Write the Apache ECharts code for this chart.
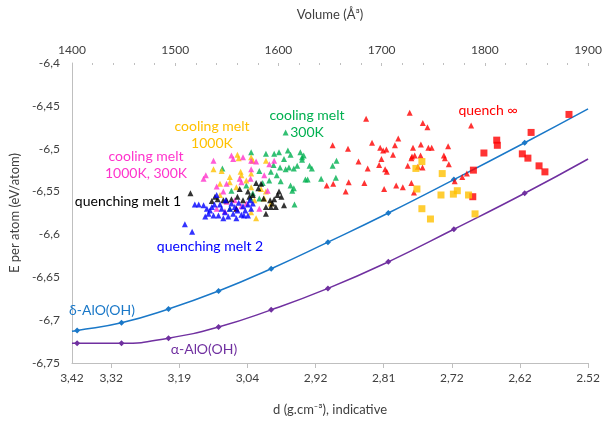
<!DOCTYPE html>
<html>
<head>
<meta charset="utf-8">
<script src="https://cdn.jsdelivr.net/npm/echarts@6/dist/echarts.min.js"></script>
<style>
  html, body { margin: 0; padding: 0; background: #fff; }
  #chart { width: 605px; height: 421px; }
</style>
</head>
<body>
<div id="chart"></div>
<script>
// Cell volume (Å^3) of the computed crystalline points, shared by both polymorph curves
const lineVolumes = [1400, 1405, 1448, 1493.5, 1542, 1593, 1648, 1706.5, 1770, 1838.6, 1900];
const deltaEnergy = [-6.713, -6.712, -6.703, -6.687, -6.666, -6.640, -6.609, -6.575, -6.536, -6.493, -6.4535];
const alphaEnergy = [-6.727, -6.727, -6.727, -6.721, -6.708, -6.688, -6.663, -6.632, -6.594, -6.552, -6.512];

// Bottom axis: indicative density labels and the volumes they sit at
const densityTickVolumes = [1400, 1438, 1504, 1570, 1636, 1702, 1768, 1834, 1900];
const densityLabels = ['3,42', '3,32', '3,19', '3,04', '2,92', '2,81', '2,72', '2,62', '2.52'];

// Amorphous configurations: [volume, energy per atom]
const quenchMelt1 = [
  [1514.8,-6.552],[1538.6,-6.556],[1541.2,-6.559],[1546.6,-6.560],[1554.5,-6.559],[1560.3,-6.556],
  [1562.5,-6.547],[1565.7,-6.560],[1570.5,-6.550],[1572,-6.556],[1575.2,-6.554],[1578.4,-6.540],
  [1580.6,-6.546],[1583.2,-6.541],[1585.7,-6.558],[1587.9,-6.576],[1592,-6.560],[1594.3,-6.564],
  [1595.9,-6.559],[1599.1,-6.554],[1600.6,-6.550],[1602.9,-6.556],[1605.4,-6.566],[1597.5,-6.568],
  [1592.7,-6.568],[1587.9,-6.568],[1559.3,-6.570],[1549.8,-6.560],[1535.5,-6.561]
];
const quenchMelt2 = [
  [1509.4,-6.588],[1516.4,-6.597],[1519,-6.565],[1522.8,-6.565],[1527.5,-6.566],[1530.7,-6.570],
  [1529.1,-6.579],[1533.8,-6.572],[1535.5,-6.568],[1538,-6.565],[1540.2,-6.554],[1541.9,-6.578],
  [1543.4,-6.565],[1545,-6.570],[1548.2,-6.574],[1548.8,-6.560],[1551.4,-6.579],[1552.9,-6.570],
  [1554.5,-6.564],[1556.2,-6.576],[1557.7,-6.568],[1560.3,-6.572],[1561.5,-6.563],[1564.1,-6.577],
  [1565.7,-6.567],[1567.9,-6.572],[1570.5,-6.565],[1572.4,-6.560],[1573.6,-6.570],[1575.2,-6.564],
  [1566.6,-6.578],[1559.3,-6.581],[1546.6,-6.581],[1537.1,-6.578],[1532.3,-6.576],[1570.5,-6.578]
];
const coolMelt1000K300K = [
  [1537.1,-6.514],[1527.5,-6.535],[1529.7,-6.531],[1554.5,-6.508],[1556.2,-6.512],[1565.7,-6.510],
  [1573.6,-6.514],[1578.4,-6.515],[1562.5,-6.535],[1564.1,-6.539],[1573,-6.535],[1586.3,-6.531],
  [1589.6,-6.549],[1595.9,-6.514],[1546.6,-6.550],[1559.3,-6.570],[1564.1,-6.567],[1568.9,-6.564],
  [1540.2,-6.570],[1557.7,-6.560],[1581.5,-6.570],[1549.8,-6.541],[1573.6,-6.524],[1549.8,-6.562],
  [1591.2,-6.518],[1540.2,-6.544],[1548.2,-6.573]
];
const coolMelt1000K = [
  [1560.3,-6.507],[1561.5,-6.511],[1573.6,-6.510],[1575.2,-6.514],[1587.9,-6.514],[1537.1,-6.524],
  [1545,-6.526],[1552.9,-6.533],[1563.4,-6.527],[1564.1,-6.531],[1573.6,-6.529],[1543.4,-6.541],
  [1552.9,-6.539],[1559.3,-6.545],[1568.9,-6.537],[1573.6,-6.545],[1583.2,-6.547],[1586.3,-6.558],
  [1592.7,-6.564],[1576.8,-6.560],[1578.4,-6.581],[1573.6,-6.574],[1543.4,-6.554],[1587.9,-6.550]
];
const coolMelt1000KLarge = [
  [1739,-6.515],[1733.2,-6.523],[1758.7,-6.529],[1734.2,-6.547],[1757.5,-6.554],[1769.5,-6.553],
  [1773.3,-6.549],[1784.2,-6.554],[1739,-6.570],[1747.3,-6.582],[1790.5,-6.576]
];
const coolMelt300K = [
  [1573.6,-6.504],[1545.7,-6.523],[1554.5,-6.549],[1568.9,-6.543],[1581.5,-6.526],[1587.9,-6.506],
  [1595.9,-6.506],[1600.6,-6.504],[1609.2,-6.502],[1611.8,-6.507],[1621.3,-6.504],[1622.9,-6.510],
  [1605.4,-6.512],[1595.3,-6.519],[1601.6,-6.522],[1607,-6.524],[1610.2,-6.522],[1614.9,-6.523],
  [1618.2,-6.520],[1592.7,-6.527],[1598.4,-6.531],[1602.2,-6.538],[1591.1,-6.537],[1584.8,-6.540],
  [1581.5,-6.558],[1573,-6.558],[1611.8,-6.543],[1613.4,-6.549],[1614.9,-6.546],[1626.1,-6.536],
  [1615.6,-6.565],[1607,-6.481],[1552.9,-6.570],[1575.2,-6.552],[1624.5,-6.508],[1622.9,-6.513],
  [1630.2,-6.520],[1632.4,-6.523],[1652.5,-6.520],[1656.3,-6.514],[1628.3,-6.536],[1641.4,-6.535],
  [1655.7,-6.534]
];
const quenchInf = [
  [1685,-6.465],[1727.2,-6.458],[1739.9,-6.470],[1744.4,-6.475],[1786.7,-6.473],[1716.1,-6.488],
  [1690.7,-6.493],[1652.5,-6.496],[1667.4,-6.500],[1698.6,-6.499],[1701.5,-6.502],[1704.6,-6.501],
  [1712.9,-6.496],[1730.4,-6.499],[1738,-6.495],[1745.3,-6.499],[1748.5,-6.499],[1764.4,-6.497],
  [1711,-6.507],[1729.4,-6.509],[1732,-6.508],[1737.7,-6.508],[1699.8,-6.512],[1728.8,-6.511],
  [1760.3,-6.508],[1761.3,-6.511],[1677.6,-6.515],[1697.6,-6.519],[1703.4,-6.524],[1705,-6.527],
  [1686.5,-6.523],[1725.3,-6.520],[1735.1,-6.521],[1739.6,-6.522],[1765.1,-6.518],[1668.1,-6.539],
  [1646.8,-6.543],[1653.1,-6.541],[1683.3,-6.540],[1665.2,-6.550],[1702.4,-6.547],[1714.1,-6.543],
  [1720.5,-6.545],[1728.8,-6.540],[1731.3,-6.551],[1770.8,-6.538],[1778.1,-6.533],[1782.6,-6.529]
];
const quenchInfLarge = [
  [1881.5,-6.460],[1844.8,-6.481],[1811.5,-6.490],[1812.1,-6.496],[1799.1,-6.505],[1836.3,-6.506],
  [1841.7,-6.511],[1852.5,-6.520],[1858.2,-6.527],[1788.9,-6.525],[1788.3,-6.556]
];

const FONT = 'Lato';
const AXIS_GREY = '#bfbfbf';
const LABEL_GREY = '#404040';

function curveData(energies) {
  return lineVolumes.map((v, i) => {
    const end = i === 0 || i === lineVolumes.length - 1;
    return end ? { value: [v, energies[i]], symbol: 'none' } : [v, energies[i]];
  });
}

function scatter(name, data, color, symbol, size) {
  return {
    name, type: 'scatter', data, symbol, symbolSize: size,
    itemStyle: { color }, xAxisIndex: 0, yAxisIndex: 0, z: 3
  };
}

// Annotation text centred on (x, y)
function text(str, x, y, color) {
  return {
    type: 'text', x, y, z: 10,
    style: { text: str, fill: color, font: '14px ' + FONT, align: 'center', verticalAlign: 'middle', lineHeight: 17 }
  };
}

const chart = echarts.init(document.getElementById('chart'), null, { renderer: 'canvas' });

chart.setOption({
  animation: false,
  backgroundColor: '#fff',
  textStyle: { fontFamily: FONT },
  grid: { left: 68, right: 13, top: 63, bottom: 55 },
  xAxis: [
    {
      type: 'value', position: 'top', min: 1400, max: 1900, interval: 100,
      name: 'Volume (Å³)', nameLocation: 'middle', nameGap: 42,
      nameTextStyle: { color: LABEL_GREY, fontSize: 13, fontFamily: FONT },
      axisLine: { show: false },
      axisTick: { show: true, inside: true, length: 3, lineStyle: { color: AXIS_GREY } },
      minorTick: { show: true, splitNumber: 5, length: 2, lineStyle: { color: AXIS_GREY } },
      axisLabel: { color: LABEL_GREY, fontSize: 12, fontFamily: FONT, margin: 7, formatter: v => String(v) },
      splitLine: { show: false }
    },
    {
      type: 'value', position: 'bottom', min: 1400, max: 1900,
      name: 'd (g.cm⁻³), indicative', nameLocation: 'middle', nameGap: 40,
      nameTextStyle: { color: LABEL_GREY, fontSize: 13, fontFamily: FONT },
      axisLine: { show: true, lineStyle: { color: AXIS_GREY } },
      axisTick: { show: true, length: 5, customValues: densityTickVolumes.slice(1), lineStyle: { color: AXIS_GREY } },
      axisLabel: {
        color: LABEL_GREY, fontSize: 12, fontFamily: FONT, margin: 9,
        customValues: densityTickVolumes,
        formatter: v => {
          const i = densityTickVolumes.indexOf(v);
          return i >= 0 ? densityLabels[i] : '';
        }
      },
      splitLine: { show: false }
    }
  ],
  yAxis: {
    type: 'value', min: -6.75, max: -6.4, interval: 0.05,
    name: 'E per atom (eV/atom)', nameLocation: 'middle', nameGap: 50, nameRotate: 90,
    nameTextStyle: { color: LABEL_GREY, fontSize: 13, fontFamily: FONT },
    axisLine: { show: true, lineStyle: { color: AXIS_GREY } },
    axisTick: { show: false },
    axisLabel: {
      color: LABEL_GREY, fontSize: 12, fontFamily: FONT, margin: 12,
      formatter: v => String(Math.round(v * 100) / 100).replace('.', ',')
    },
    splitLine: { show: false }
  },
  series: [
    {
      name: 'δ-AlO(OH)', type: 'line', smooth: true, data: curveData(deltaEnergy),
      xAxisIndex: 0, symbol: 'diamond', symbolSize: 6, showAllSymbol: true,
      lineStyle: { color: '#1a78c8', width: 1.5 }, itemStyle: { color: '#1a78c8' }, z: 2
    },
    {
      name: 'α-AlO(OH)', type: 'line', smooth: true, data: curveData(alphaEnergy),
      xAxisIndex: 0, symbol: 'diamond', symbolSize: 6, showAllSymbol: true,
      lineStyle: { color: '#7030a0', width: 1.5 }, itemStyle: { color: '#7030a0' }, z: 2
    },
    scatter('quench ∞', quenchInf, '#ff0000', 'triangle', 6),
    scatter('quench ∞ (large)', quenchInfLarge, '#ff0000', 'rect', 7),
    scatter('cooling melt 300K', coolMelt300K, '#00b050', 'triangle', 6),
    scatter('cooling melt 1000K', coolMelt1000K, '#ffc000', 'triangle', 6),
    scatter('cooling melt 1000K (large)', coolMelt1000KLarge, '#ffc000', 'rect', 7),
    scatter('cooling melt 1000K, 300K', coolMelt1000K300K, '#ff33cc', 'triangle', 6),
    scatter('quenching melt 1', quenchMelt1, '#000000', 'triangle', 6),
    scatter('quenching melt 2', quenchMelt2, '#0000ff', 'triangle', 6)
  ],
  graphic: [
    text('quench ∞', 488, 110, '#ff0000'),
    text('cooling melt\n300K', 307, 124, '#00b050'),
    text('cooling melt\n1000K', 212, 135, '#ffc000'),
    text('cooling melt\n1000K, 300K', 146, 165, '#ff33cc'),
    text('quenching melt 1', 128, 201, '#000000'),
    text('quenching melt 2', 210, 246, '#0000ff'),
    text('δ-AlO(OH)', 102, 310, '#1a78c8'),
    text('α-AlO(OH)', 204, 349, '#7030a0')
  ]
});
</script>
</body>
</html>
